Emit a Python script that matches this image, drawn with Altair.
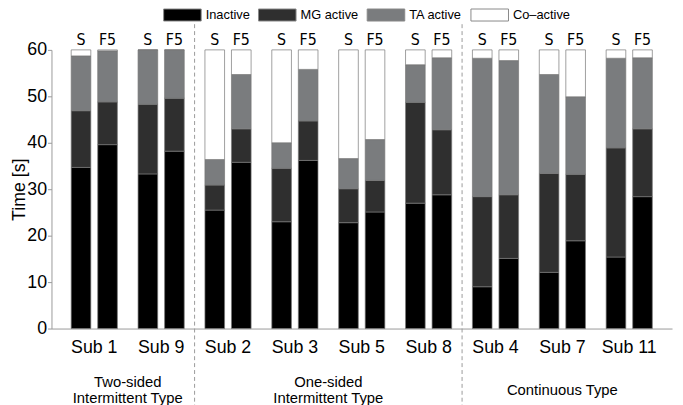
import altair as alt
import pandas as pd

subjects = ["Sub 1", "Sub 9", "Sub 2", "Sub 3", "Sub 5", "Sub 8", "Sub 4", "Sub 7", "Sub 11"]
conditions = ["S", "F5"]
states = ["Inactive", "MG active", "TA active", "Co\u2013active"]
colors = ["#000000", "#2f2f2f", "#7a7c7e", "#ffffff"]

# durations per (subject, condition) in order S, F5 for each subject
inactive = [34.7, 39.6, 33.3, 38.2, 25.5, 35.8, 23.0, 36.2, 22.8, 25.1, 27.0, 28.8, 9.0, 15.1, 12.1, 18.9, 15.4, 28.4]
mg_active = [12.2, 9.2, 15.0, 11.4, 5.4, 7.2, 11.5, 8.5, 7.3, 6.8, 21.7, 14.0, 19.4, 13.7, 21.3, 14.3, 23.5, 14.6]
ta_active = [11.8, 11.0, 11.7, 10.4, 5.5, 11.7, 5.5, 11.1, 6.5, 8.8, 8.1, 15.5, 29.8, 28.9, 21.3, 16.7, 19.3, 15.3]
co_active = [1.3, 0.2, 0.0, 0.0, 23.6, 5.3, 20.0, 4.2, 23.4, 19.3, 3.2, 1.7, 1.8, 2.3, 5.3, 10.1, 1.8, 1.7]

group_labels = ["Two-sided\nIntermittent Type", "One-sided\nIntermittent Type"]
group_anchor = ["Sub 9", "Sub 5"]
group_label_center = ["Continuous Type"]
group_center_anchor = ["Sub 7"]
divider_anchor = ["Sub 2", "Sub 4"]
y_ticks = [0, 10, 20, 30, 40, 50, 60]

rows = []
i = 0
for s in subjects:
    for c in conditions:
        for k, (st, vals) in enumerate(zip(states, [inactive, mg_active, ta_active, co_active])):
            rows.append({"sub": s, "cond": c, "state": st, "order": k, "value": vals[i]})
        i += 1
df = pd.DataFrame(rows)

lab_df = pd.DataFrame([{"sub": s, "cond": c, "top": 60} for s in subjects for c in conditions])
div_df = pd.DataFrame({"sub": divider_anchor})
grp_df = pd.DataFrame({"sub": group_anchor, "label": group_labels})
grp2_df = pd.DataFrame({"sub": group_center_anchor, "label": group_label_center})

W, H = 628, 282
xscale = alt.Scale(domain=subjects, paddingInner=0, paddingOuter=0.14)
offscale = alt.Scale(domain=conditions, paddingInner=0.26, paddingOuter=0.39)
yscale = alt.Scale(domain=[0, 60], nice=False)

bars = alt.Chart(df).mark_bar(stroke="#777777", strokeWidth=0.7, opacity=1).encode(
    x=alt.X("sub:N", scale=xscale, sort=subjects,
            axis=alt.Axis(title=None, labelAngle=0, labelFontSize=18, labelPadding=10,
                          ticks=False, domainColor="#999999", labelColor="#000000")),
    xOffset=alt.XOffset("cond:N", scale=offscale, sort=conditions),
    y=alt.Y("value:Q", stack="zero", scale=yscale,
            axis=alt.Axis(values=y_ticks, title="Time [s]", titleFontSize=18, titleFontWeight="normal",
                          titleX=-23, titleY=H / 2, titleAngle=-90, titleAlign="center", titleBaseline="bottom",
                          labelFontSize=18, labelPadding=1, tickSize=4, tickColor="#999999",
                          domainColor="#999999", grid=False, labelColor="#000000")),
    fill=alt.Fill("state:N", sort=states, scale=alt.Scale(domain=states, range=colors),
                  legend=alt.Legend(title=None, orient="none", direction="horizontal",
                                    legendX=113, legendY=-55,
                                    symbolType="M-1,-0.32H1V0.32H-1Z", symbolSize=1444,
                                    symbolStrokeColor="#888888", symbolStrokeWidth=1,
                                    symbolOpacity=1, labelFontSize=13, labelOffset=4,
                                    columnPadding=6, labelColor="#000000")),
    order=alt.Order("order:Q"),
)

labels = alt.Chart(lab_df).mark_text(baseline="bottom", dy=-2, fontSize=16,
                                     font="Liberation Sans Narrow, DejaVu Sans Condensed, Liberation Sans").encode(
    x=alt.X("sub:N", scale=xscale, sort=subjects),
    xOffset=alt.XOffset("cond:N", scale=offscale, sort=conditions),
    y=alt.Y("top:Q", scale=yscale),
    text="cond:N",
)

dividers = alt.Chart(div_df).mark_rule(color="#999999", strokeWidth=1, strokeDash=[4, 3]).encode(
    x=alt.X("sub:N", scale=xscale, sort=subjects, bandPosition=0),
    y=alt.value(-26),
    y2=alt.value(H + 80),
)

groups = alt.Chart(grp_df).mark_text(fontSize=15, lineBreak="\n", lineHeight=16, baseline="middle").encode(
    x=alt.X("sub:N", scale=xscale, sort=subjects, bandPosition=0),
    y=alt.value(H + 54),
    text="label:N",
)

groups2 = alt.Chart(grp2_df).mark_text(fontSize=15, baseline="middle").encode(
    x=alt.X("sub:N", scale=xscale, sort=subjects),
    y=alt.value(H + 62),
    text="label:N",
)

chart = alt.layer(bars, labels, dividers, groups, groups2).properties(
    width=W, height=H,
    autosize=alt.AutoSizeParams(type="none"),
    padding={"left": 44, "top": 40, "right": 3, "bottom": 77},
).configure(font="Liberation Sans").configure_view(stroke=None)

chart.save("out.html", embed_options={"renderer": "svg", "actions": False})
